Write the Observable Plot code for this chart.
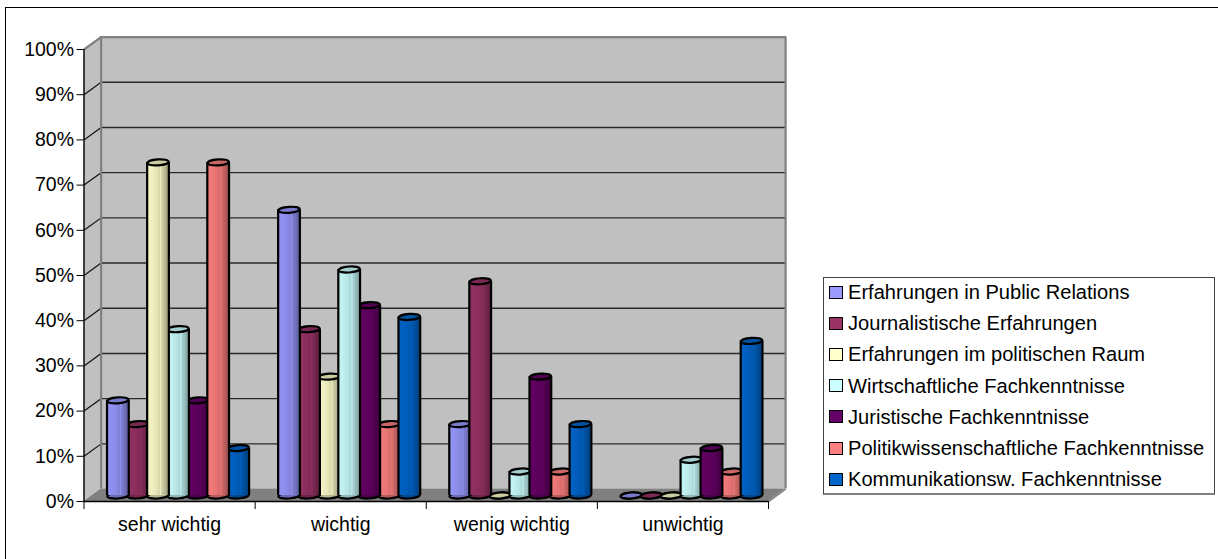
<!DOCTYPE html>
<html>
<head>
<meta charset="utf-8">
<script src="https://cdn.jsdelivr.net/npm/d3@7"></script>
<script src="https://cdn.jsdelivr.net/npm/@observablehq/plot@0.6"></script>
<style>
html,body{margin:0;padding:0;background:#fff;overflow:hidden;width:1218px;height:559px}
body{position:relative;font-family:"Liberation Sans",Arial,sans-serif;color:#000}
#frame{position:absolute;left:5px;top:7px;right:-4px;bottom:-4px;border:1.6px solid #000}
#chart{position:absolute;left:0;top:0}
#chart svg{display:block;background:transparent}
#legend{position:absolute;left:823px;top:277px;width:390px;height:215px;border:1.4px solid #444;border-bottom:2px solid #808080;background:#fff;box-sizing:content-box}
.row{position:absolute;left:0;height:31.2px;line-height:31.2px;font-size:20.1px;white-space:nowrap}
.sw{position:absolute;left:5px;top:8.5px;width:11.5px;height:11px;border:1.6px solid #000}
.lb{position:absolute;left:24px;top:0}
</style>
</head>
<body>
<div id="frame"></div>
<div id="chart"></div>
<div id="legend"></div>
<script>
const categories = ["sehr wichtig", "wichtig", "wenig wichtig", "unwichtig"];
const seriesNames = [
  "Erfahrungen in Public Relations",
  "Journalistische Erfahrungen",
  "Erfahrungen im politischen Raum",
  "Wirtschaftliche Fachkenntnisse",
  "Juristische Fachkenntnisse",
  "Politikwissenschaftliche Fachkenntnisse",
  "Kommunikationsw. Fachkenntnisse"
];
const seriesColors = ["#9999ff", "#993366", "#ffffcc", "#ccffff", "#660066", "#ff8080", "#0066cc"];
const publicRelations = [0.2105, 0.632, 0.158, 0];
const journalistisch  = [0.158, 0.368, 0.474, 0];
const politischerRaum = [0.737, 0.263, 0, 0];
const wirtschaft      = [0.368, 0.50, 0.053, 0.079];
const juristisch      = [0.2105, 0.421, 0.263, 0.105];
const politikwiss     = [0.737, 0.158, 0.053, 0.053];
const kommunikation   = [0.105, 0.395, 0.158, 0.342];
const seriesValues = [publicRelations, journalistisch, politischerRaum, wirtschaft, juristisch, politikwiss, kommunikation];
const yTicks = d3.range(0, 11).map(d => d / 10);

const depthX = 0.1, depthY = 0.0275;   // 3D depth of the box, data units
const firstBar = 0.198, barStep = 0.1172, halfBar = 0.0635;
const fontSize = 19.5;

const shade = (c, k) => { const r = d3.rgb(c); return d3.rgb(r.r * k, r.g * k, r.b * k).formatHex(); };

const ellipse = {
  draw(ctx) {
    const a = 10.6, b = 3, t = -0.07, K = 0.5523;
    const P = (x, y) => [x, y + t * x];
    ctx.moveTo(...P(-a, 0));
    ctx.bezierCurveTo(...P(-a, -K * b), ...P(-K * a, -b), ...P(0, -b));
    ctx.bezierCurveTo(...P(K * a, -b), ...P(a, -K * b), ...P(a, 0));
    ctx.bezierCurveTo(...P(a, K * b), ...P(K * a, b), ...P(0, b));
    ctx.bezierCurveTo(...P(-K * a, b), ...P(-a, K * b), ...P(-a, 0));
    ctx.closePath();
  }
};

const defs = () => {
  const d = d3.create("svg:defs");
  seriesColors.forEach((c, i) => {
    const g = d.append("linearGradient").attr("id", "g" + i).attr("x1", 0).attr("x2", 1).attr("y1", 0).attr("y2", 0);
    [[0, .92], [.18, .95], [.45, .9], [.6, .84], [.64, .93], [.7, .82], [.85, .72], [1, .6]].forEach(([o, k]) =>
      g.append("stop").attr("offset", o).attr("stop-color", shade(c, k)));
  });
  return d.node();
};

// cylinders: in each category taller ones sit on top of their neighbours
const cylinders = categories.flatMap((cat, c) =>
  d3.sort(seriesNames.map((name, s) => ({
    x: c + firstBar + barStep * s, v: seriesValues[s][c], s
  })), d => d.v));

const edge = 2.2;
const cylinderMarks = cylinders.flatMap(d => {
  const row = [d], base = seriesColors[d.s], dy = -6;
  const marks = [
    Plot.dot(row, {x: "x", y: () => 0, symbol: ellipse, fill: shade(base, .72), stroke: "#000", strokeWidth: edge, dy})
  ];
  if (d.v > 0) marks.push(
    Plot.rect(row, {x1: e => e.x - halfBar, x2: e => e.x + halfBar, y1: () => 0, y2: "v", fill: `url(#g${d.s})`, dy}),
    Plot.ruleX(row, {x: e => e.x - halfBar, y1: () => 0, y2: "v", stroke: "#000", strokeWidth: edge, dy}),
    Plot.ruleX(row, {x: e => e.x + halfBar, y1: () => 0, y2: "v", stroke: "#000", strokeWidth: edge, dy})
  );
  marks.push(
    Plot.dot(row, {x: "x", y: "v", symbol: ellipse, fill: shade(base, .8), stroke: "#000", strokeWidth: edge, dy})
  );
  return marks;
});

const wallX = [0, depthX];
const chart = Plot.plot({
  width: 1218, height: 559,
  marginLeft: 83.5, marginRight: 450, marginTop: 49, marginBottom: 58,
  x: {domain: [0, 4], axis: null},
  y: {domain: [0, 1], axis: null},
  style: {fontFamily: "'Liberation Sans', Arial, sans-serif", background: "transparent", overflow: "visible"},
  marks: [
    defs,
    // back wall, side wall, floor
    Plot.rect([0], {x1: depthX, x2: 4 + depthX, y1: depthY, y2: 1 + depthY, fill: "#c0c0c0"}),
    Plot.areaY(wallX, {x: d => d, y1: d => d / depthX * depthY, y2: d => 1 + d / depthX * depthY, fill: "#c0c0c0"}),
    Plot.areaX([0, depthY], {y: d => d, x1: d => d / depthY * depthX, x2: d => 4 + d / depthY * depthX, fill: "#808080"}),
    // gridlines
    Plot.ruleY(yTicks.slice(1, -1), {y: d => d + depthY, x1: depthX, x2: 4 + depthX, stroke: "#2a2a2a", strokeWidth: 1.4}),
    Plot.link(yTicks.slice(1, -1), {x1: 0, y1: d => d, x2: depthX, y2: d => d + depthY, stroke: "#111", strokeWidth: 1.2}),
    // grey box edges
    Plot.ruleY([1 + depthY], {x1: depthX - 0.005, x2: 4 + depthX + 0.005, stroke: "#808080", strokeWidth: 2.2}),
    Plot.ruleX([depthX, 4 + depthX], {y1: depthY, y2: 1 + depthY, stroke: "#808080", strokeWidth: 2.2}),
    Plot.link([1], {x1: 0, y1: 1, x2: depthX, y2: 1 + depthY, stroke: "#808080", strokeWidth: 2.2}),
    Plot.link([0], {x1: 4, y1: 0, x2: 4 + depthX, y2: depthY, stroke: "#808080", strokeWidth: 1.6}),
    ...cylinderMarks,
    // axes
    Plot.ruleX([0], {y1: 0, y2: 1, stroke: "#000", strokeWidth: 1.4}),
    Plot.ruleY([0], {x1: 0, x2: 4, stroke: "#000", strokeWidth: 1.6}),
    Plot.axisY({ticks: yTicks, tickFormat: d3.format(".0%"), tickSize: 7, tickPadding: 3, fontSize, stroke: "#000", color: "#000", fontVariant: "normal", label: null, tickOpacity: 1}),
    Plot.axisX({ticks: [0, 1, 2, 3, 4], tickFormat: () => "", tickSize: 8, label: null, stroke: "#000"}),
    Plot.axisX({ticks: categories.map((_, i) => i + 0.5), tickFormat: d => categories[d - 0.5], tickSize: 0, tickPadding: 16, fontSize, color: "#000", fontVariant: "normal", label: null})
  ]
});
document.getElementById("chart").append(chart);

const legend = d3.select("#legend");
seriesNames.forEach((name, i) => {
  const r = legend.append("div").attr("class", "row").style("top", (i * 31.2 - 1) + "px");
  r.append("span").attr("class", "sw").style("background", seriesColors[i]);
  r.append("span").attr("class", "lb").text(name);
});
</script>
</body>
</html>
